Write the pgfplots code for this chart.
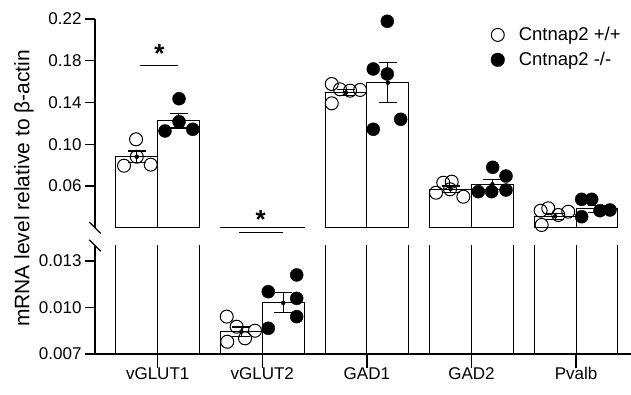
\documentclass[border=0pt]{standalone}
\usepackage{pgfplots}
\pgfplotsset{compat=1.18}
\usepackage{fontspec}
\setmainfont{Liberation Sans}

\pgfplotsset{
  common/.style={
    scale only axis, width=536pt, xmin=-0.5994, xmax=4.525,
    axis y line*=left, tick align=outside,
    major tick length=10pt,
    axis line style={line width=1.3pt, black},
    tick style={line width=1.3pt, black},
    ticklabel style={font=\fontsize{17}{20}\selectfont},
    /pgf/number format/assume math mode=true,
    scaled y ticks=false,
    clip mode=individual,
  },
  barplot/.style={ybar, bar width=0.4, bar shift=0pt, fill=white, draw=black, line width=1.1pt, forget plot},
  errplot/.style={only marks, mark=none, forget plot,
     error bars/.cd, y dir=both, y explicit,
     error bar style={draw=black, line width=1.1pt, solid},
     error mark options={rotate=90, draw=black, line width=1.1pt, mark size=9pt}},
  wt/.style={only marks, mark=o, mark size=6.5pt, black, mark options={line width=1pt, black},
     legend image code/.code={\path[draw=none] (0pt,0pt) -- (26pt,0pt); \draw[black, line width=1pt] (7pt,0pt) circle (6.5pt);}},
  ko/.style={only marks, mark=*, mark size=6.5pt, black, mark options={fill=black, draw=black},
     legend image code/.code={\path[draw=none] (0pt,0pt) -- (26pt,0pt); \fill[black] (7pt,0pt) circle (6.8pt);}},
}

\begin{document}
\begin{tikzpicture}
\useasboundingbox (0pt,0pt) rectangle (631pt,395pt);

% ---------------- upper axis ----------------
\begin{axis}[common, at={(95pt,167.3pt)}, anchor=south west, height=208.7pt,
  ymin=0.02, ymax=0.22, axis x line=none,
  ytick={0.06,0.10,0.14,0.18,0.22}, yticklabels={0.06,0.10,0.14,0.18,0.22},
  legend style={at={(0.738,0.97)}, anchor=north west, draw=none, fill=none,
    font=\fontsize{18.5}{22}\selectfont, inner sep=0pt, row sep=6pt},
  legend cell align=left,
]
\addplot[barplot] coordinates {(-0.2,0.088) (0.8,0.00844) (1.8,0.1494) (2.8,0.057) (3.8,0.031)};
\addplot[barplot] coordinates {(0.2,0.1225) (1.2,0.0103) (2.2,0.159) (3.2,0.0616) (4.2,0.038)};
\addplot[errplot] coordinates {
  (-0.2,0.088) +- (0,0.0055)
  (0.2,0.1225) +- (0,0.007)
  (1.8,0.1494) +- (0,0.003)
  (2.2,0.159) +- (0,0.019)
  (2.8,0.057) +- (0,0.003)
  (3.2,0.0616) +- (0,0.005)
  (3.8,0.031) +- (0,0.003)
  (4.2,0.038) +- (0,0.0035)
};
\addplot[wt] coordinates {
  (-0.322,0.0794) (-0.207,0.1047) (-0.2,0.088) (-0.067,0.0804)
  (1.664,0.1577) (1.664,0.1392) (1.743,0.1526) (1.839,0.1513) (1.935,0.152)
  (2.661,0.0535) (2.73,0.0631) (2.811,0.0641) (2.795,0.0568) (2.922,0.0497)
  (3.661,0.0363) (3.734,0.0386) (3.671,0.0226) (3.83,0.0322) (3.925,0.0353)
};
\addlegendentry{Cntnap2 +/+}
\addplot[ko] coordinates {
  (0.07,0.1127) (0.204,0.1436) (0.204,0.1216) (0.335,0.1143)
  (2.195,0.2178) (2.061,0.1721) (2.195,0.1673) (2.061,0.1143) (2.323,0.1239)
  (3.203,0.0779) (3.33,0.0695) (3.065,0.0545) (3.193,0.0545) (3.33,0.0561)
  (4.053,0.0472) (4.149,0.0472) (4.053,0.0305) (4.228,0.0363) (4.324,0.037)
};
\addlegendentry{Cntnap2 -/-}
\draw[line width=1.1pt] (axis cs:-0.169,0.1752) -- (axis cs:0.197,0.1752);
\node[anchor=base, inner sep=0pt, font=\fontsize{26}{26}\selectfont\bfseries] at (axis cs:0.016,0.1785) {*};
\end{axis}

% ---------------- lower axis ----------------
\begin{axis}[common, at={(95pt,41pt)}, anchor=south west, height=108.5pt,
  ymin=0.007, ymax=0.014, axis x line*=bottom,
  xtick={0,1,2,3,4}, xticklabels={vGLUT1,vGLUT2,GAD1,GAD2,Pvalb},
  xtick style={/pgfplots/major tick length=14pt},
  ytick={0.007,0.010,0.013}, yticklabels={0.007,0.010,0.013},
]
\addplot[barplot] coordinates {(-0.2,0.088) (0.8,0.00844) (1.8,0.1494) (2.8,0.057) (3.8,0.031)};
\addplot[barplot] coordinates {(0.2,0.1225) (1.2,0.0103) (2.2,0.159) (3.2,0.0616) (4.2,0.038)};
\addplot[errplot] coordinates {
  (0.8,0.00844) +- (0,0.0003)
  (1.2,0.0103) +- (0,0.00065)
};
\addplot[wt] coordinates {(0.66,0.00941) (0.755,0.00876) (0.665,0.00779) (0.835,0.00801) (0.93,0.0085)};
\addplot[ko] coordinates {(1.057,0.01102) (1.329,0.0121) (1.329,0.01059) (1.329,0.00941) (1.057,0.00866)};
\draw[line width=1.1pt] (axis cs:0.78,0.01483) -- (axis cs:1.195,0.01483);
\node[anchor=base, inner sep=0pt, font=\fontsize{26}{26}\selectfont\bfseries] at (axis cs:0.985,0.01511) {*};
\end{axis}

% axis break marks
\draw[line width=1.3pt] (89.3pt,173pt) -- (100.7pt,161.6pt);
\draw[line width=1.3pt] (89.3pt,155.2pt) -- (100.7pt,143.8pt);

% y label
\node[rotate=90, font=\fontsize{21}{24}\selectfont] at (24pt,206.5pt) {mRNA level relative to β-actin};
\end{tikzpicture}
\end{document}
